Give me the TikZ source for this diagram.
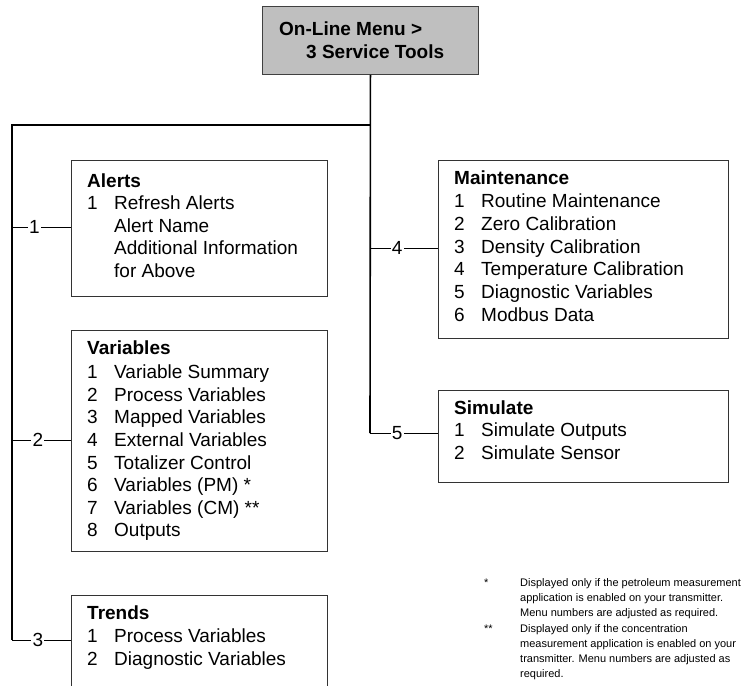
\documentclass[tikz,border=0pt]{standalone}
\usepackage{fontspec}
\setmainfont{Liberation Sans}
\newcommand{\mitem}[5]{%
  \node[num] (#1n) at (#2,#3) {#4};
  \node[itm] (#1t) at (#2+27,#3) {#5};}
\begin{document}
\begin{tikzpicture}[x=1pt,y=-1pt,
  menubox/.style={draw=black!80, line width=0.9pt, fill=white, inner sep=0pt, anchor=north west},
  topbox/.style={draw=black!75, line width=0.9pt, fill=black!25, inner sep=0pt, anchor=north west},
  trunk/.style={line width=1.6pt, black},
  branch/.style={line width=0.8pt, black},
  lbl/.style={font=\fontsize{19}{23}\selectfont, fill=white, inner sep=1.2pt},
  ttl/.style={font=\fontsize{19}{23}\selectfont\bfseries, anchor=base west, inner sep=0pt},
  num/.style={font=\fontsize{19}{23}\selectfont, anchor=base west, inner sep=0pt},
  itm/.style={font=\fontsize{19}{23}\selectfont, anchor=base west, inner sep=0pt},
  fn/.style={font=\fontsize{11}{15}\selectfont, anchor=base west, inner sep=0pt}]
\useasboundingbox (0,0) rectangle (745,686);

% boxes
\node[topbox, minimum width=216pt, minimum height=68pt] (top) at (262,6) {};
\node[menubox, minimum width=256pt, minimum height=136pt] (alerts) at (71,160) {};
\node[menubox, minimum width=256pt, minimum height=221pt] (vars) at (71,330) {};
\node[inner sep=0pt, anchor=north west, minimum width=256pt, minimum height=91pt] (trends) at (71,595) {};
\draw[draw=black!80, line width=0.9pt] (trends.south west) -- (trends.north west) -- (trends.north east) -- (trends.south east);
\node[menubox, minimum width=290pt, minimum height=178pt] (maint) at (438,160) {};
\node[menubox, minimum width=290pt, minimum height=92pt] (sim) at (438,390) {};

% top text
\node[ttl] (toptxt1) at (279,35.5) {On-Line Menu >};
\node[ttl] (toptxt2) at (306,58.5) {3 Service Tools};

% trunk
\coordinate (hub) at (370,125);
\coordinate (lt) at (12,125);
\coordinate (j1) at (12,227);
\coordinate (j2) at (12,440);
\coordinate (j3) at (12,640);
\coordinate (j4) at (370,248);
\coordinate (j5) at (370,433);
\draw[trunk] (top.south) -- (j5);
\draw[trunk] (hub) -- (lt) -- (j3);

% branches
\draw[branch] (j1) -- node[lbl, pos=0.38] (l1) {1} (j1 -| alerts.west);
\draw[branch] (j2) -- node[lbl, pos=0.44] (l2) {2} (j2 -| vars.west);
\draw[branch] (j3) -- node[lbl, pos=0.44] (l3) {3} (j3 -| trends.west);
\draw[branch] (j4) -- node[lbl, pos=0.4] (l4) {4} (j4 -| maint.west);
\draw[branch] (j5) -- node[lbl, pos=0.4] (l5) {5} (j5 -| sim.west);

% Alerts
\node[ttl] (at) at (87,187.5) {Alerts};
\mitem{a1}{87}{209.5}{1}{Refresh Alerts}
\node[itm] (a2) at (114,232) {Alert Name};
\node[itm] (a3) at (114,254.5) {Additional Information};
\node[itm] (a4) at (114,277) {for Above};

% Variables
\node[ttl] (vt) at (87,354.5) {Variables};
\mitem{v1}{87}{378.5}{1}{Variable Summary}
\mitem{v2}{87}{401}{2}{Process Variables}
\mitem{v3}{87}{423.5}{3}{Mapped Variables}
\mitem{v4}{87}{446.5}{4}{External Variables}
\mitem{v5}{87}{469}{5}{Totalizer Control}
\mitem{v6}{87}{491.5}{6}{Variables (PM) *}
\mitem{v7}{87}{514}{7}{Variables (CM) **}
\mitem{v8}{87}{536.5}{8}{Outputs}

% Trends
\node[ttl] (tt) at (87,619.5) {Trends};
\mitem{t1}{87}{642.5}{1}{Process Variables}
\mitem{t2}{87}{665}{2}{Diagnostic Variables}

% Maintenance
\node[ttl] (mt) at (454,184.5) {Maintenance};
\mitem{m1}{454}{207.5}{1}{Routine Maintenance}
\mitem{m2}{454}{230.5}{2}{Zero Calibration}
\mitem{m3}{454}{253.5}{3}{Density Calibration}
\mitem{m4}{454}{275.5}{4}{Temperature Calibration}
\mitem{m5}{454}{298.5}{5}{Diagnostic Variables}
\mitem{m6}{454}{321.5}{6}{Modbus Data}

% Simulate
\node[ttl] (st) at (454,414.5) {Simulate};
\mitem{s1}{454}{436.5}{1}{Simulate Outputs}
\mitem{s2}{454}{459.5}{2}{Simulate Sensor}

% footnotes
\node[fn] (f1s) at (484,586) {*};
\node[fn] (f1a) at (520,586) {Displayed only if the petroleum measurement};
\node[fn] (f1b) at (520,601) {application is enabled on your transmitter.};
\node[fn] (f1c) at (520,616) {Menu numbers are adjusted as required.};
\node[fn] (f2s) at (484,632) {**};
\node[fn] (f2a) at (520,632) {Displayed only if the concentration};
\node[fn] (f2b) at (520,647) {measurement application is enabled on your};
\node[fn] (f2c) at (520,662) {transmitter. Menu numbers are adjusted as};
\node[fn] (f2d) at (520,677) {required.};
\end{tikzpicture}
\end{document}
